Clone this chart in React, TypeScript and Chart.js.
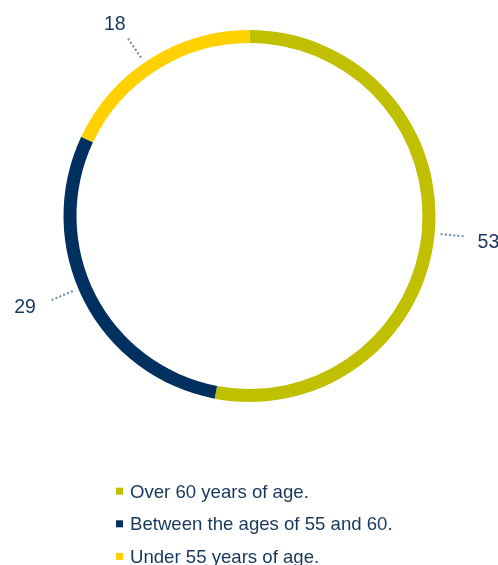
import React, { useEffect, useRef } from "react";
import { Chart, registerables } from "chart.js";

Chart.register(...registerables);

const categories = ["Over 60 years of age.", "Between the ages of 55 and 60.", "Under 55 years of age."];
const values = [53, 29, 18];
const colors = ["#C0BF00", "#00305F", "#FFD100"];
const TEXT = "#17375d";
const DOT = "#7893ad";
// small angular nudges (degrees) for leader lines, as placed in the original
const leaderNudge = [0, 4, -2];

const labelPlugin = {
  id: "leaderLabels",
  afterDatasetsDraw(chart: any) {
    const ctx = chart.ctx;
    const meta = chart.getDatasetMeta(0);
    ctx.save();
    meta.data.forEach((arc: any, i: number) => {
      const { x, y, startAngle, endAngle, outerRadius } = arc.getProps(
        ["x", "y", "startAngle", "endAngle", "outerRadius"],
        true
      );
      const mid = (startAngle + endAngle) / 2 + (leaderNudge[i] * Math.PI) / 180;
      const cx = Math.cos(mid);
      const sy = Math.sin(mid);
      const r1 = outerRadius + 7;
      const r2 = outerRadius + 32;
      const ex = x + cx * r2;
      const ey = y + sy * r2;
      ctx.beginPath();
      ctx.setLineDash([0.01, 4.2]);
      ctx.lineCap = "round";
      ctx.lineWidth = 2.4;
      ctx.strokeStyle = DOT;
      ctx.moveTo(x + cx * r1, y + sy * r1);
      ctx.lineTo(ex, ey);
      ctx.stroke();
      ctx.setLineDash([]);
      ctx.font = "19.5px Arial, 'Liberation Sans', sans-serif";
      ctx.fillStyle = TEXT;
      ctx.textBaseline = "middle";
      if (Math.abs(cx) > 0.7) {
        ctx.textAlign = cx > 0 ? "left" : "right";
        ctx.fillText(String(values[i]), ex + (cx > 0 ? 11 : -13), ey + 6);
      } else {
        ctx.textAlign = "center";
        ctx.fillText(String(values[i]), ex + cx * 17 - 2, ey + sy * 17 + 3);
      }
    });
    // legend
    const lx = 116;
    const tx = 130;
    const baselines = [497.7, 530.3, 563];
    ctx.font = "18.6px Arial, 'Liberation Sans', sans-serif";
    ctx.textAlign = "left";
    ctx.textBaseline = "alphabetic";
    categories.forEach((c, i) => {
      const b = baselines[i];
      ctx.fillStyle = colors[i];
      ctx.fillRect(lx, b - 10, 7, 7);
      ctx.fillStyle = TEXT;
      ctx.fillText(c, tx, b);
    });
    ctx.restore();
  },
};

export default function App() {
  const ref = useRef<HTMLCanvasElement | null>(null);
  useEffect(() => {
    if (!ref.current) return;
    const chart = new Chart(ref.current, {
      type: "doughnut",
      data: {
        labels: categories,
        datasets: [
          {
            data: values,
            backgroundColor: colors,
            borderWidth: 0,
            hoverOffset: 0,
          },
        ],
      },
      options: {
        responsive: false,
        animation: false,
        cutout: "93%",
        layout: { padding: { left: 63.5, right: 62.5, top: 30, bottom: 163 } },
        plugins: {
          legend: { display: false },
          tooltip: { enabled: false },
        },
      },
      plugins: [labelPlugin],
    });
    return () => chart.destroy();
  }, []);
  return (
    <div style={{ position: "fixed", left: 0, top: 0, width: 498, height: 565, background: "#fff" }}>
      <canvas ref={ref} width={498} height={565} style={{ display: "block" }} />
    </div>
  );
}
